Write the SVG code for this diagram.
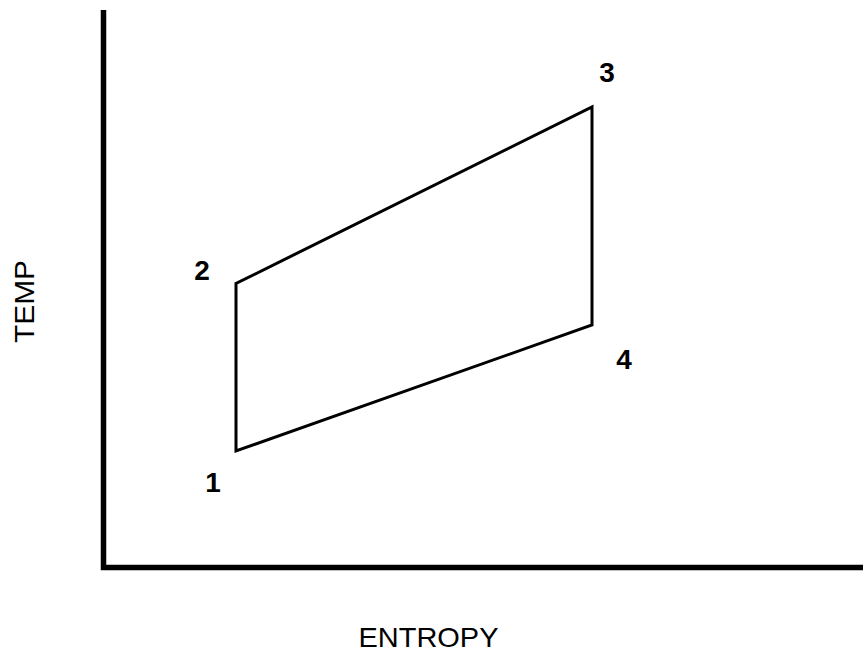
<svg xmlns="http://www.w3.org/2000/svg" width="863" height="652" viewBox="0 0 863 652">
<style>
.axis{fill:none;stroke:#000;stroke-width:5.5}
.cycle{fill:none;stroke:#000;stroke-width:3;stroke-linejoin:miter}
.pt{font-family:"Liberation Sans",Arial,sans-serif;font-weight:bold;font-size:28px;fill:#000;text-anchor:middle}
.lbl{font-family:"Liberation Sans",Arial,sans-serif;font-size:28px;fill:#000;text-anchor:middle}
</style>
<rect width="863" height="652" fill="#fff"/>
<g id="axes">
<polyline class="axis" points="103.5,10 103.5,567.5 863,567.5"/>
</g>
<g id="connectors">
<polygon class="cycle" points="236,451 236,283.5 592,107 592,325"/>
</g>
<g id="node-1"><text class="pt" x="213" y="492">1</text></g>
<g id="node-2"><text class="pt" x="202" y="280">2</text></g>
<g id="node-3"><text class="pt" x="607" y="82">3</text></g>
<g id="node-4"><text class="pt" x="624" y="369">4</text></g>
<g id="label-temp"><text class="lbl" transform="translate(33.5,301.5) rotate(-90)" textLength="83" lengthAdjust="spacingAndGlyphs">TEMP</text></g>
<g id="label-entropy"><text class="lbl" x="428.5" y="647" textLength="140" lengthAdjust="spacingAndGlyphs">ENTROPY</text></g>
</svg>
